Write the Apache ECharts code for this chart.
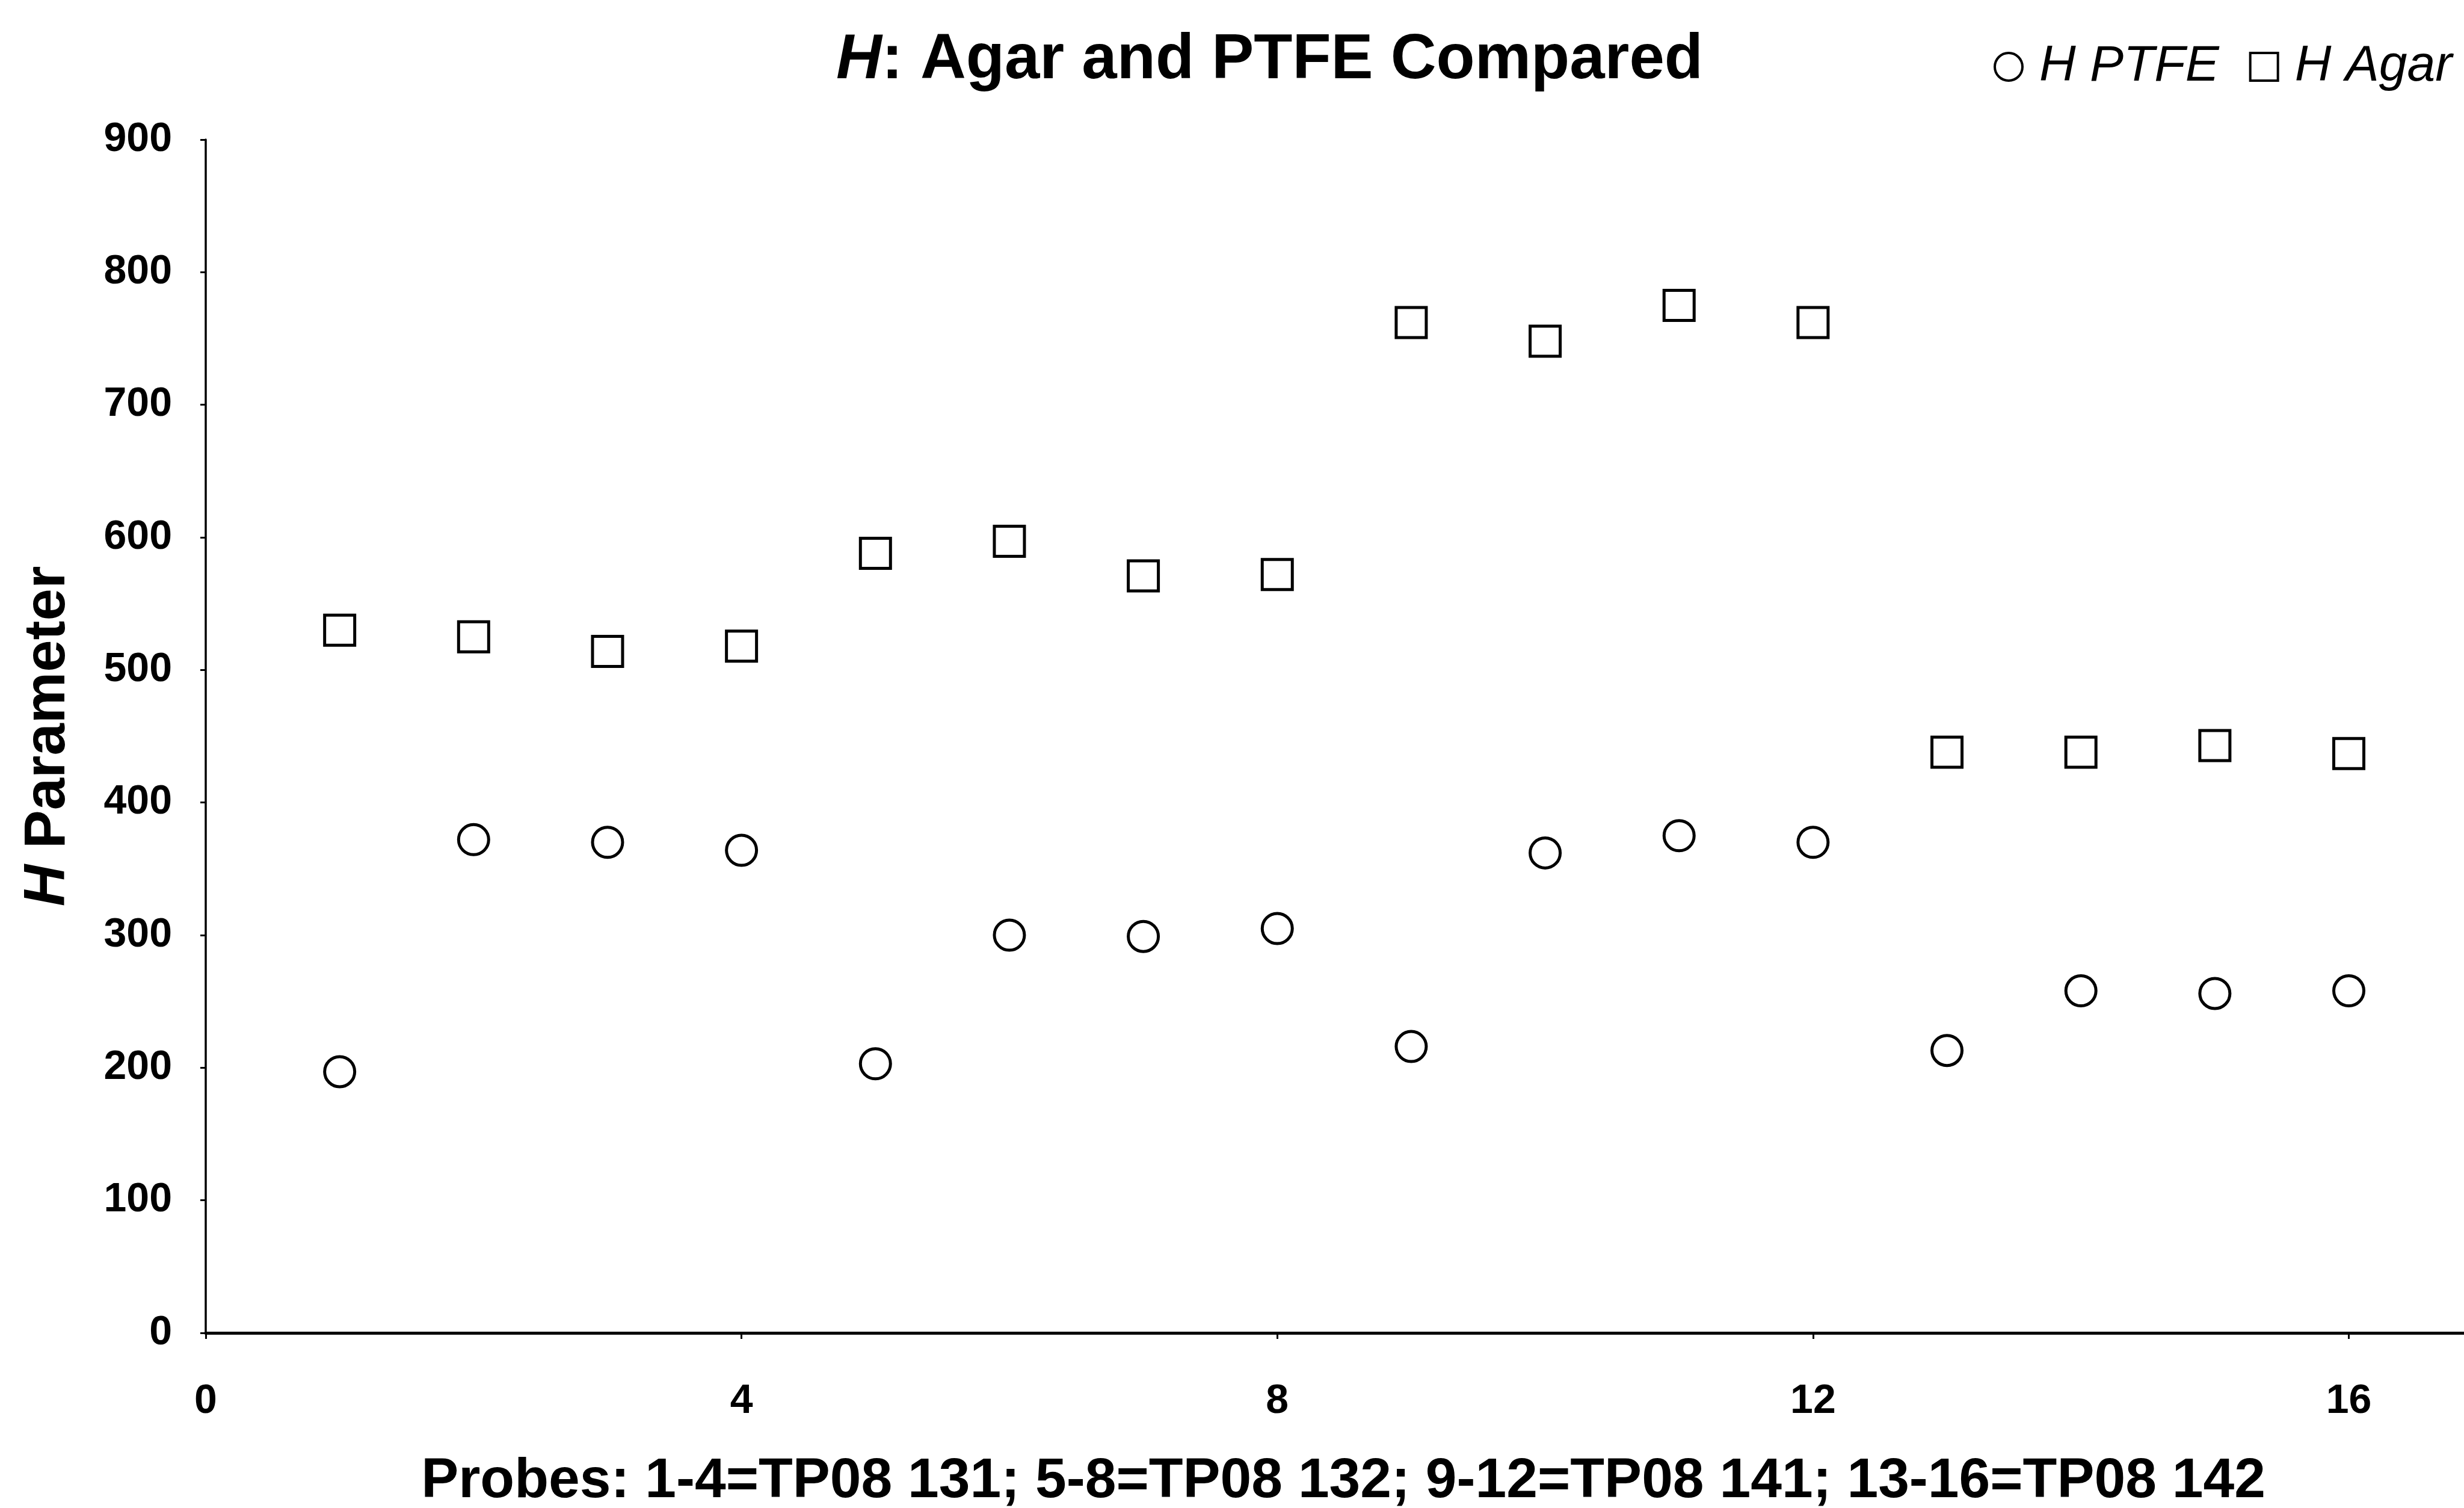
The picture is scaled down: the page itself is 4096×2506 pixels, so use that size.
<!DOCTYPE html>
<html>
<head>
<meta charset="utf-8">
<title>H: Agar and PTFE Compared</title>
<script src="https://cdn.jsdelivr.net/npm/echarts@6/dist/echarts.min.js"></script>
<style>
  html, body { margin: 0; padding: 0; background: #fff; }
  #chart { width: 4096px; height: 2506px; }
</style>
</head>
<body>
<div id="chart"></div>
<script>
// probe numbers 1-16
var probes = [1, 2, 3, 4, 5, 6, 7, 8, 9, 10, 11, 12, 13, 14, 15, 16];
// H values
var hPTFE = [197, 372, 370, 364, 203, 300, 299, 305, 216, 362, 375, 370, 213, 258, 256, 258];
var hAgar = [530, 525, 514, 518, 588, 597, 571, 572, 762, 748, 775, 762, 438, 438, 443, 437];
var xTicks = [0, 4, 8, 12, 16];
var yMin = 0, yMax = 900, yStep = 100;

function pairs(ys) {
    return probes.map(function (p, i) { return [p, ys[i]]; });
}

var chart = echarts.init(document.getElementById('chart'));
var font = '"Liberation Sans", Arial, sans-serif';

var option = {
    backgroundColor: '#fff',
    animation: false,
    title: {
        text: '{i|H}: Agar and PTFE Compared',
        left: 1390,
        top: 49,
        padding: 0,
        textStyle: {
            fontFamily: font,
            fontSize: 105,
            fontWeight: 'bold',
            color: '#000',
            rich: {
                i: { fontFamily: font, fontSize: 105, fontWeight: 'bold', fontStyle: 'italic', color: '#000' }
            }
        }
    },
    legend: {
        data: [
            { name: 'H PTFE', icon: 'circle' },
            { name: 'H Agar', icon: 'path://M0,0H100V100H0Z' }
        ],
        left: 3314,
        top: 69,
        padding: 0,
        itemWidth: 92,
        itemHeight: 46,
        itemGap: 50,
        symbolKeepAspect: true,
        itemStyle: { color: '#fff', borderColor: '#000', borderWidth: 4 },
        textStyle: {
            fontFamily: font,
            fontSize: 84,
            fontStyle: 'italic',
            color: '#000'
        }
    },
    grid: {
        left: 342,
        top: 232,
        right: 0,
        bottom: 291,
        outerBoundsMode: 'none'
    },
    xAxis: {
        type: 'value',
        min: 0,
        max: 16.86,
        name: 'Probes: 1-4=TP08 131; 5-8=TP08 132; 9-12=TP08 141; 13-16=TP08 142',
        nameLocation: 'middle',
        nameGap: 201,
        nameTextStyle: {
            fontFamily: font,
            fontSize: 93,
            fontWeight: 'bold',
            color: '#000',
            padding: [0, 0, 0, 28]
        },
        axisLine: { lineStyle: { color: '#000', width: 5 } },
        axisTick: { show: true, length: 10, lineStyle: { color: '#000', width: 3 }, customValues: xTicks },
        axisLabel: {
            customValues: xTicks,
            margin: 80,
            fontFamily: font,
            fontSize: 68,
            fontWeight: 'bold',
            color: '#000'
        },
        splitLine: { show: false }
    },
    yAxis: {
        type: 'value',
        min: yMin,
        max: yMax,
        interval: yStep,
        name: '{i|H} Parameter',
        nameLocation: 'middle',
        nameGap: 213,
        nameRotate: 90,
        nameTextStyle: {
            fontFamily: font,
            fontSize: 96,
            fontWeight: 'bold',
            color: '#000',
            rich: {
                i: { fontFamily: font, fontSize: 96, fontWeight: 'bold', fontStyle: 'italic', color: '#000' }
            }
        },
        axisLine: { show: true, lineStyle: { color: '#000', width: 3.5 } },
        axisTick: { show: true, length: 9, lineStyle: { color: '#000', width: 3 } },
        axisLabel: {
            margin: 56,
            fontFamily: font,
            fontSize: 68,
            fontWeight: 'bold',
            color: '#000'
        },
        splitLine: { show: false }
    },
    series: [
        {
            name: 'H PTFE',
            type: 'scatter',
            symbol: 'circle',
            symbolSize: 50,
            data: pairs(hPTFE),
            itemStyle: { color: '#fff', borderColor: '#000', borderWidth: 5, opacity: 1 }
        },
        {
            name: 'H Agar',
            type: 'scatter',
            symbol: 'rect',
            symbolSize: 50,
            data: pairs(hAgar),
            itemStyle: { color: '#fff', borderColor: '#000', borderWidth: 5, opacity: 1 }
        }
    ]
};

chart.setOption(option);
window.onresize = chart.resize;
</script>
</body>
</html>
